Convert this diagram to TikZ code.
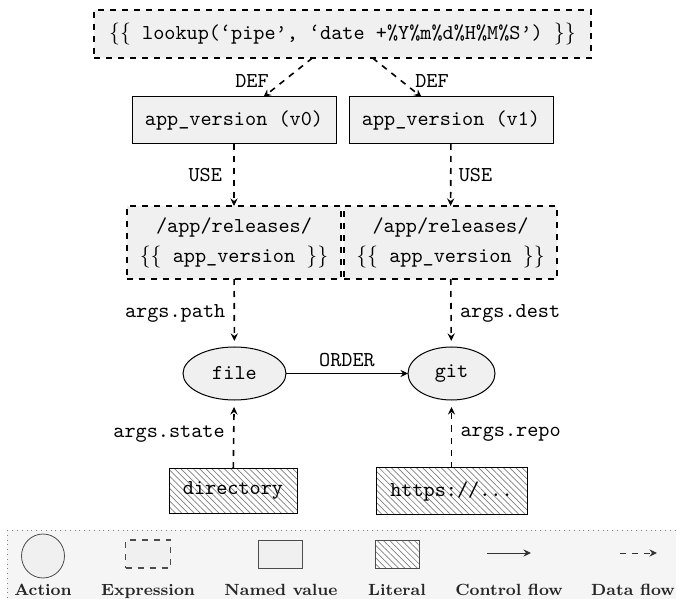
\documentclass[tikz,border=0pt]{standalone}
\usetikzlibrary{arrows.meta,shapes.geometric,patterns.meta}
\definecolor{boxgray}{RGB}{240,240,240}
\definecolor{leggray}{RGB}{245,245,245}
\begin{document}
\begin{tikzpicture}[x=0.5pt,y=-0.5pt,
  every node/.style={inner sep=0pt, outer sep=0pt},
  tt/.style={font=\fontsize{10.6}{15}\selectfont\ttfamily},
  named/.style={tt, draw, fill=boxgray, line width=0.5pt, rectangle},
  exprbox/.style={tt, draw, dashed, fill=boxgray, line width=0.8pt, align=center},
  action/.style={tt, draw, fill=boxgray, ellipse, line width=0.5pt},
  literal/.style={tt, draw, line width=0.5pt, preaction={fill=white},
    pattern={Lines[angle=-45,distance=2.2pt,line width=0.35pt]}, pattern color=gray},
  tip/.style={-{Stealth[length=3.8pt,width=3.6pt,inset=1.3pt]}},
  dflow/.style={dashed, line width=0.8pt, tip},
  cflow/.style={line width=0.6pt, tip},
  lbl/.style={tt},
  leglbl/.style={font=\fontsize{8.1}{10}\selectfont\bfseries, text=black!85, anchor=base},
]
\useasboundingbox (0,0) rectangle (676,599);

% main nodes
\node[exprbox, minimum width=248.5pt, minimum height=24pt] (top) at (342.5,34)
  {$\{\{$ lookup(‘pipe’, ‘date +\%Y\%m\%d\%H\%M\%S’) $\}\}$};
\node[named, minimum width=102pt, minimum height=23.5pt] (v0) at (234,120.5) {app\_version (v0)};
\node[named, minimum width=102pt, minimum height=23.5pt] (v1) at (451,120.5) {app\_version (v1)};
\node[exprbox, minimum width=107pt, minimum height=36.5pt] (e0) at (234,242.5)
  {/app/releases/\\$\{\{$ app\_version $\}\}$};
\node[exprbox, minimum width=106.5pt, minimum height=36.5pt] (e1) at (450.5,242.5)
  {/app/releases/\\$\{\{$ app\_version $\}\}$};
\node[action, minimum width=51.5pt, minimum height=26.5pt] (file) at (234.5,373.5) {file};
\node[action, minimum width=43.5pt, minimum height=26.5pt] (git) at (451.5,373.5) {git};
\node[literal, minimum width=64pt, minimum height=22.5pt] (lit0) at (233,490.5) {directory};
\node[literal, minimum width=75.5pt, minimum height=23.5pt] (lit1) at (451.5,491) {https://...};

% connectors
\draw[dflow] (top) -- (v0);
\node[lbl] (def0) at (252,81) {DEF};
\draw[dflow] (top) -- (v1);
\node[lbl] (def1) at (432,81) {DEF};
\draw[dflow] (v0) -- (e0) node[lbl, midway, left=6pt] (use0) {USE};
\draw[dflow] (v1) -- (e1) node[lbl, midway, right=4pt] (use1) {USE};
\draw[dflow, shorten >=3pt] (e0) -- (file) node[lbl, midway, left=4.5pt] (ap) {args.path};
\draw[dflow, shorten >=3pt] (e1) -- (git) node[lbl, midway, right=4.5pt] (ad) {args.dest};
\draw[cflow] (file) -- (git) node[lbl, midway, above=3.5pt] (ord) {ORDER};
\draw[dflow, shorten >=3.5pt] (lit0) -- (file) node[lbl, midway, left=4.5pt] (as) {args.state};
\draw[dflow, shorten >=3.5pt] (lit1) -- (git) node[lbl, midway, right=4.5pt] (ar) {args.repo};

% legend
\draw[dotted, draw=gray, fill=leggray] (7,530) rectangle (700,620);
\node[draw=black!70, fill=boxgray, ellipse, line width=0.4pt,
  minimum width=21.5pt, minimum height=22pt] (lgA) at (43,556) {};
\node[draw=black!70, dashed, fill=boxgray, line width=0.6pt,
  minimum width=22.5pt, minimum height=14pt] (lgE) at (148,554) {};
\node[draw=black!70, fill=boxgray, line width=0.4pt,
  minimum width=22pt, minimum height=14pt] (lgN) at (280,554) {};
\node[literal, draw=black!70, line width=0.4pt,
  minimum width=22pt, minimum height=14pt] (lgL) at (397,554) {};
\coordinate (c1) at (487,553);
\coordinate (c2) at (531,553);
\draw[cflow, draw=black!80, line width=0.5pt] (c1) -- (c2);
\coordinate (d1) at (620,553);
\coordinate (d2) at (657,553);
\draw[dflow, draw=black!80, line width=0.5pt] (d1) -- (d2);

\node[leglbl] (tA) at (43,595) {Action};
\node[leglbl] (tE) at (148,595) {Expression};
\node[leglbl] (tN) at (281,595) {Named value};
\node[leglbl] (tL) at (397,595) {Literal};
\node[leglbl] (tC) at (509,595) {Control flow};
\node[leglbl] (tD) at (633,595) {Data flow};
\end{tikzpicture}
\end{document}
